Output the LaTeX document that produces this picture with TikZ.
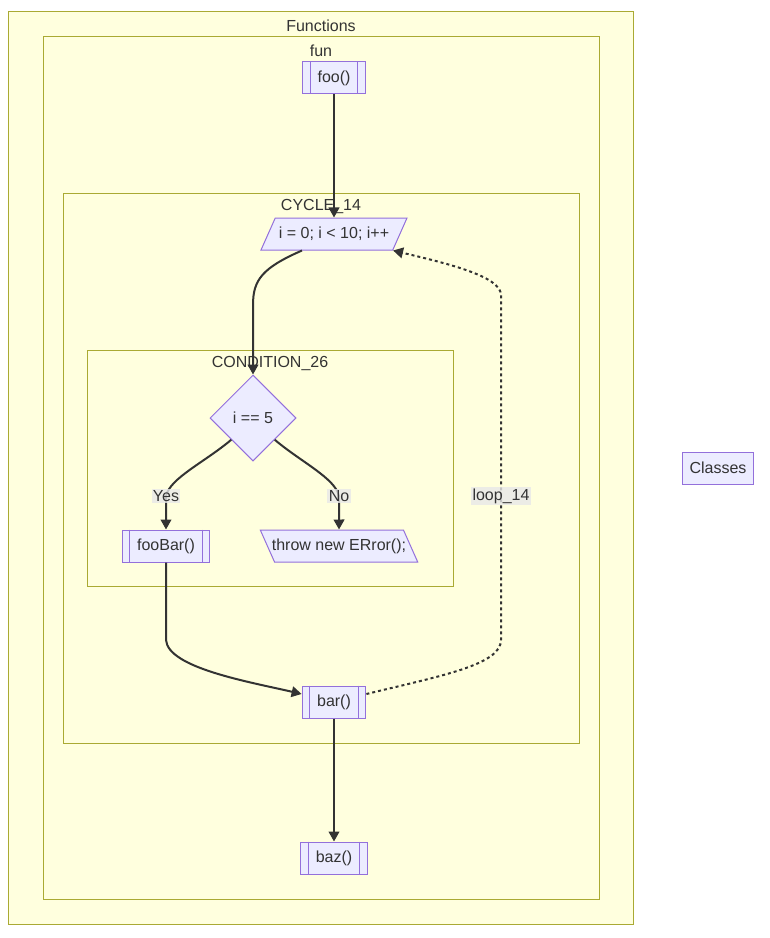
\documentclass[tikz,border=0pt]{standalone}
\usepackage{fontspec}
\setmainfont{Liberation Sans}
\usepackage{tikz}
\usetikzlibrary{shapes.geometric,arrows.meta}

\definecolor{clusterfill}{HTML}{FFFFDE}
\definecolor{clusterline}{HTML}{AAAA33}
\definecolor{nodefill}{HTML}{ECECFF}
\definecolor{nodeline}{HTML}{9370DB}
\definecolor{inkcol}{HTML}{333333}
\definecolor{labelfill}{HTML}{E8E8E8}

\begin{document}
\begin{tikzpicture}[x=0.75pt, y=-0.75pt, font=\fontsize{12pt}{14pt}\selectfont, text=inkcol,
    cluster/.style={draw=clusterline, fill=clusterfill, line width=0.75pt},
    ctitle/.style={inner sep=0pt},
    subbox/.style={draw=nodeline, fill=nodefill, line width=0.75pt, minimum height=24pt,
                   inner xsep=11.25pt, inner ysep=0pt},
    slantbox/.style={draw=nodeline, fill=nodefill, line width=0.75pt, shape=trapezium,
                     trapezium stretches body, text height=9pt, text depth=3pt,
                     inner xsep=1pt, inner ysep=6pt},
    decision/.style={draw=nodeline, fill=nodefill, line width=0.75pt, shape=diamond,
                     minimum width=64.5pt, minimum height=64.5pt, inner sep=0pt},
    edge/.style={draw=inkcol, line width=1.5pt, -{Triangle[length=7.5pt,width=8pt]}},
    elabel/.style={fill=labelfill, fill opacity=0.8, text opacity=1, inner sep=1pt},
]
\useasboundingbox (0,0) rectangle (769,938);

% === Clusters ===
\draw[cluster] (8,12) rectangle (633,924);
\node[ctitle] (functionsLbl) at (321,26) {Functions};
\draw[cluster] (43,37) rectangle (599,899);
\node[ctitle] (funLbl) at (321,51) {fun};
\draw[cluster] (63,193) rectangle (579,743);
\node[ctitle] (cycleLbl) at (321,207) {CYCLE\_14};
\draw[cluster] (87,350) rectangle (453,586);
\node[ctitle] (condLbl) at (270,364) {CONDITION\_26};

% === Nodes ===
\node[subbox] (foo) at (334,78) {foo()};
\node[slantbox, trapezium left angle=66, trapezium right angle=114,
      minimum width=109.5pt] (loop) at (334,234) {i = 0; i < 10; i++};
\node[decision] (cond) at (253,418) {i == 5};
\node[subbox] (fooBar) at (166,546) {fooBar()};
\node[slantbox, trapezium left angle=114, trapezium right angle=66,
      inner xsep=-2pt] (throw) at (339,546) {throw new ERror();};
\node[subbox] (bar) at (334,702) {bar()};
\node[subbox] (baz) at (334,858) {baz()};
\node[subbox, inner xsep=0pt, minimum width=53.25pt] (classes) at (718,468) {Classes};

% subroutine side bars
\foreach \n in {foo,fooBar,bar,baz} {
    \draw[nodeline, line width=0.75pt] ([xshift=6pt]\n.north west) -- ([xshift=6pt]\n.south west);
    \draw[nodeline, line width=0.75pt] ([xshift=-6pt]\n.north east) -- ([xshift=-6pt]\n.south east);
}

% === Edges ===
\draw[edge] (foo) -- (loop);
\draw[edge] ([xshift=-24pt]loop.south) .. controls (262,268) and (253,280) .. (253,305) -- (cond.north);
\draw[edge] (cond.south west) .. controls (205,462) and (170,478) .. (166,496)
    node[elabel] {Yes} -- (fooBar.north);
\draw[edge] (cond.south east) .. controls (301,462) and (335,478) .. (339,496)
    node[elabel] {No} -- (throw.north);
\draw[edge] (fooBar.south) -- (166,640) .. controls (168,668) and (250,682) .. ([yshift=6pt]bar.west);
\draw[edge] (bar) -- (baz);
\draw[edge, dash pattern=on 2.25pt off 2.25pt]
    ([yshift=6pt]bar.east) .. controls (440,676) and (501,665) .. (501,640) -- (501,496)
    node[elabel, solid] {loop\_14} -- (501,295) .. controls (501,276) and (445,263) .. (loop.bottom right corner);

\end{tikzpicture}
\end{document}
